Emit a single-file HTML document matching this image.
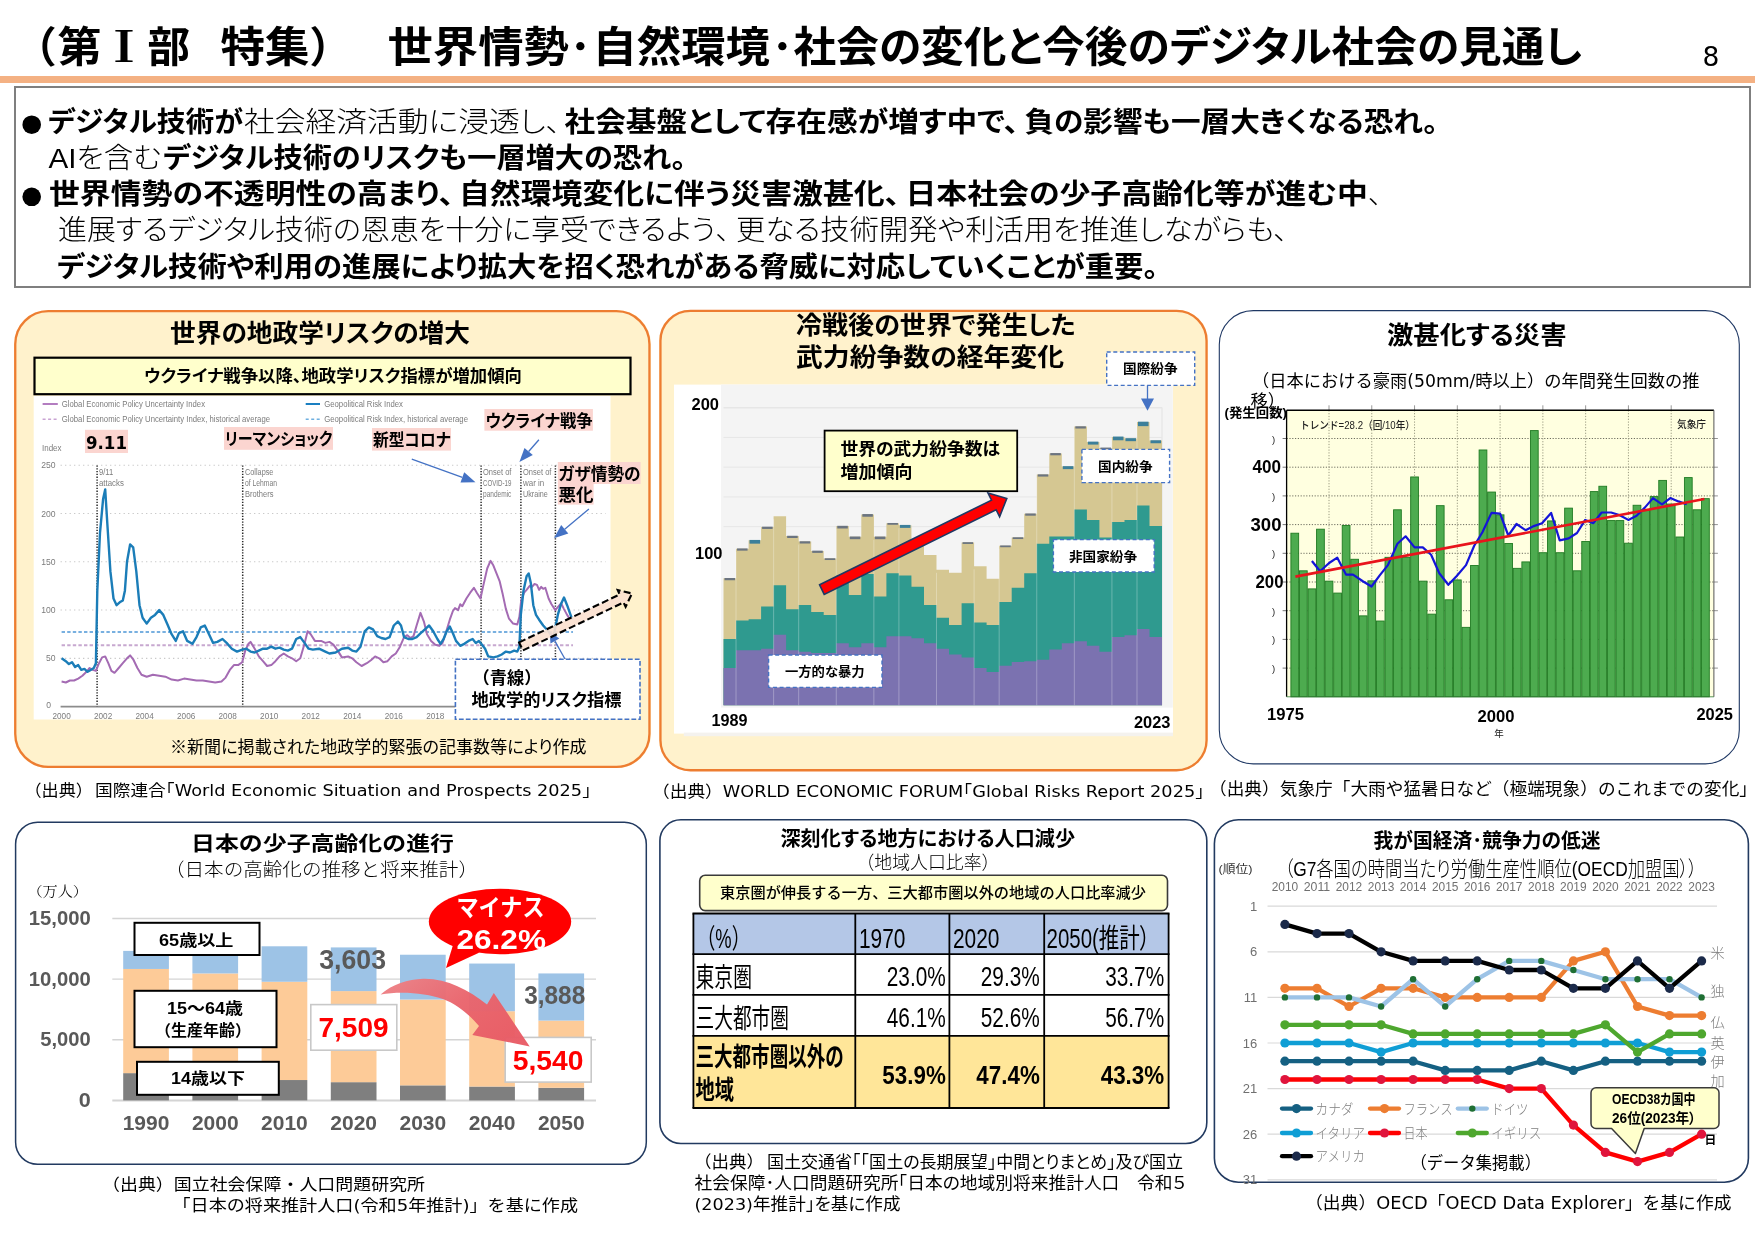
<!DOCTYPE html>
<html lang="ja"><head><meta charset="utf-8"><title>第Ⅰ部 特集 世界情勢・自然環境・社会の変化と今後のデジタル社会の見通し</title>
<style>
html,body{margin:0;padding:0;background:#fff}
body{width:1755px;height:1241px;position:relative;overflow:hidden;font-family:'Liberation Sans','Noto Sans CJK JP',sans-serif}
.rule{position:absolute;left:0;top:76px;width:1755px;height:7px;background:#f4b183}
.summary{position:absolute;left:14px;top:86px;width:1733px;height:198px;border:2px solid #7f7f7f;background:#fff}
.panel{position:absolute;box-sizing:border-box}
.po{background:#fff2cc}
.pn{background:#fff}
#pn1{left:14.1px;top:310px;width:636.5px;height:458px;border-radius:34px}
#pn2{left:659.3px;top:309.7px;width:548.4px;height:461.7px;border-radius:31px}
#pn3{left:1218.8px;top:310.1px;width:521px;height:454.3px;border-radius:34px}
#pn4{left:14.8px;top:821.4px;width:632.3px;height:343.7px;border-radius:23px}
#pn5{left:659px;top:818.9px;width:548.7px;height:325.5px;border-radius:22px}
#pn6{left:1213.5px;top:818.8px;width:535.8px;height:364.3px;border-radius:25px}
svg.ov{position:absolute;left:0;top:0;will-change:opacity;font-family:'Liberation Sans','Noto Sans CJK JP',sans-serif;font-feature-settings:'palt'}
</style></head>
<body>
<div class="rule"></div>
<div class="summary"></div>
<div class="panel po" id="pn1"></div>
<div class="panel po" id="pn2"></div>
<div class="panel pn" id="pn3"></div>
<div class="panel pn" id="pn4"></div>
<div class="panel pn" id="pn5"></div>
<div class="panel pn" id="pn6"></div>
<svg class="ov" width="1755" height="1241" viewBox="0 0 1755 1241">
<g id="frames" fill="none">
<rect x="15.25" y="311.15" width="634.2" height="455.7" rx="33" stroke="#ed7d31" stroke-width="2.3"/>
<rect x="660.45" y="310.85" width="546.1" height="459.4" rx="30" stroke="#ed7d31" stroke-width="2.3"/>
<rect x="1219.3" y="310.6" width="520" height="453.3" rx="34" stroke="#1f3864" stroke-width="1.1"/>
<rect x="15.6" y="822.2" width="630.7" height="342.1" rx="22" stroke="#223a60" stroke-width="1.5"/>
<rect x="659.9" y="819.8" width="546.9" height="323.7" rx="21" stroke="#223a60" stroke-width="1.6"/>
<rect x="1214.4" y="819.7" width="534" height="362.5" rx="24" stroke="#223a60" stroke-width="1.6"/>
</g>
<g id="header">
<text x="55" y="62" font-size="42.5" font-weight="700" text-anchor="end">（</text>
<text x="57.5" y="62" font-size="42.5" font-weight="700" textLength="44" lengthAdjust="spacingAndGlyphs">第</text>
<text x="124" y="62" font-size="42.5" font-weight="900" text-anchor="middle" style="font-family:'Noto Serif CJK SC','Liberation Serif',serif;">Ⅰ</text>
<text x="147.5" y="62" font-size="42.5" font-weight="700" textLength="42.5" lengthAdjust="spacingAndGlyphs">部</text>
<text x="220.5" y="62" font-size="42.5" font-weight="700" textLength="89" lengthAdjust="spacingAndGlyphs">特集</text>
<text x="311" y="62" font-size="42.5" font-weight="700">）</text>
<text x="387.5" y="62" font-size="42.5" font-weight="700" textLength="181.5" lengthAdjust="spacingAndGlyphs">世界情勢</text>
<text x="580.5" y="62" font-size="42.5" font-weight="700" text-anchor="middle">･</text>
<text x="592.5" y="62" font-size="42.5" font-weight="700" textLength="177.5" lengthAdjust="spacingAndGlyphs">自然環境</text>
<text x="782.5" y="62" font-size="42.5" font-weight="700" text-anchor="middle">･</text>
<text x="793.5" y="62" font-size="42.5" font-weight="700" textLength="788.5" lengthAdjust="spacingAndGlyphs">社会の変化と今後のデジタル社会の見通し</text>
<text x="1711" y="66.2" font-size="26.5" text-anchor="middle" style="font-family:'DejaVu Sans','Noto Sans CJK JP',sans-serif;">8</text>
</g>
<g id="summary">
<circle cx="31.7" cy="124.7" r="9.3"/>
<circle cx="31.7" cy="196.8" r="9.3"/>
<text x="48" y="132.3" font-size="28.2" font-weight="700" textLength="195" lengthAdjust="spacingAndGlyphs">デジタル技術が</text>
<text x="244" y="132.3" font-size="28.2" font-weight="300" textLength="317" lengthAdjust="spacingAndGlyphs">社会経済活動に浸透し、</text>
<text x="564.5" y="132.3" font-size="28.2" font-weight="700" textLength="454.5" lengthAdjust="spacingAndGlyphs">社会基盤として存在感が増す中で、</text>
<text x="1024.5" y="132.3" font-size="28.2" font-weight="700" textLength="413.5" lengthAdjust="spacingAndGlyphs">負の影響も一層大きくなる恐れ。</text>
<text x="48.5" y="168.35" font-size="28.2" font-weight="300" textLength="113" lengthAdjust="spacingAndGlyphs">AIを含む</text>
<text x="163" y="168.35" font-size="28.2" font-weight="700" textLength="523" lengthAdjust="spacingAndGlyphs">デジタル技術のリスクも一層増大の恐れ。</text>
<text x="49" y="204.4" font-size="28.2" font-weight="700" textLength="405" lengthAdjust="spacingAndGlyphs">世界情勢の不透明性の高まり、</text>
<text x="459" y="204.4" font-size="28.2" font-weight="700" textLength="441" lengthAdjust="spacingAndGlyphs">自然環境変化に伴う災害激甚化、</text>
<text x="905.5" y="204.4" font-size="28.2" font-weight="700" textLength="462.5" lengthAdjust="spacingAndGlyphs">日本社会の少子高齢化等が進む中</text>
<text x="1368" y="204.4" font-size="28.2" font-weight="300">、</text>
<text x="58" y="240.45" font-size="28.2" font-weight="300" textLength="672" lengthAdjust="spacingAndGlyphs">進展するデジタル技術の恩恵を十分に享受できるよう、</text>
<text x="736" y="240.45" font-size="28.2" font-weight="300" textLength="552" lengthAdjust="spacingAndGlyphs">更なる技術開発や利活用を推進しながらも、</text>
<text x="57" y="276.5" font-size="28.2" font-weight="700" textLength="1101" lengthAdjust="spacingAndGlyphs">デジタル技術や利用の進展により拡大を招く恐れがある脅威に対応していくことが重要。</text>
</g>
<g id="p1">
<text x="170" y="341.9" font-size="24.6" font-weight="700" textLength="300" lengthAdjust="spacingAndGlyphs">世界の地政学リスクの増大</text>
<rect x="34.5" y="357.7" width="596" height="36.5" fill="#ffffcc" stroke="#000" stroke-width="2.2"/>
<text x="144" y="381.5" font-size="16.5" font-weight="700" textLength="378" lengthAdjust="spacingAndGlyphs">ウクライナ戦争以降、地政学リスク指標が増加傾向</text>
<rect x="33.7" y="396" width="576.8" height="323.5" fill="#fff"/>
<line x1="42.6" y1="404" x2="57.8" y2="404" stroke="#a05cb0" stroke-width="1.6" />
<line x1="42.6" y1="419.2" x2="57.8" y2="419.2" stroke="#c9a3d3" stroke-width="1.4" stroke-dasharray="3 2.5"/>
<line x1="305.7" y1="404" x2="320" y2="404" stroke="#1a7fc1" stroke-width="2" />
<line x1="305.7" y1="419.2" x2="320" y2="419.2" stroke="#6fb0e0" stroke-width="1.6" stroke-dasharray="3 2.5"/>
<text x="61.8" y="407" font-size="8.6" fill="#7c7c7c" textLength="143.2" lengthAdjust="spacingAndGlyphs">Global Economic Policy Uncertainty Index</text>
<text x="61.8" y="422.2" font-size="8.6" fill="#7c7c7c" textLength="208.2" lengthAdjust="spacingAndGlyphs">Global Economic Policy Uncertainty Index, historical average</text>
<text x="324.2" y="407" font-size="8.6" fill="#7c7c7c" textLength="78.8" lengthAdjust="spacingAndGlyphs">Geopolitical Risk Index</text>
<text x="324.2" y="422.2" font-size="8.6" fill="#7c7c7c" textLength="143.8" lengthAdjust="spacingAndGlyphs">Geopolitical Risk Index, historical average</text>
<text x="42" y="451" font-size="8.6" fill="#7c7c7c" textLength="19.5" lengthAdjust="spacingAndGlyphs">Index</text>
<line x1="60.6" y1="658.325" x2="605.6" y2="658.325" stroke="#c4c4c4" stroke-width="1.1" stroke-dasharray="1.2 3.3"/>
<text x="55.5" y="661.325" font-size="8.6" fill="#7c7c7c" text-anchor="end">50</text>
<line x1="60.6" y1="610.05" x2="605.6" y2="610.05" stroke="#c4c4c4" stroke-width="1.1" stroke-dasharray="1.2 3.3"/>
<text x="55.5" y="613.05" font-size="8.6" fill="#7c7c7c" text-anchor="end">100</text>
<line x1="60.6" y1="561.775" x2="605.6" y2="561.775" stroke="#c4c4c4" stroke-width="1.1" stroke-dasharray="1.2 3.3"/>
<text x="55.5" y="564.775" font-size="8.6" fill="#7c7c7c" text-anchor="end">150</text>
<line x1="60.6" y1="513.5" x2="605.6" y2="513.5" stroke="#c4c4c4" stroke-width="1.1" stroke-dasharray="1.2 3.3"/>
<text x="55.5" y="516.5" font-size="8.6" fill="#7c7c7c" text-anchor="end">200</text>
<line x1="60.6" y1="465.225" x2="605.6" y2="465.225" stroke="#c4c4c4" stroke-width="1.1" stroke-dasharray="1.2 3.3"/>
<text x="55.5" y="468.225" font-size="8.6" fill="#7c7c7c" text-anchor="end">250</text>
<text x="51" y="708.1" font-size="8.6" fill="#7c7c7c" text-anchor="end">0</text>
<line x1="60.6" y1="706.6" x2="605.6" y2="706.6" stroke="#8c8c8c" stroke-width="1.9" />
<text x="61.6" y="718.6" font-size="8.2" fill="#7c7c7c" text-anchor="middle">2000</text>
<text x="103.12" y="718.6" font-size="8.2" fill="#7c7c7c" text-anchor="middle">2002</text>
<text x="144.64" y="718.6" font-size="8.2" fill="#7c7c7c" text-anchor="middle">2004</text>
<text x="186.16" y="718.6" font-size="8.2" fill="#7c7c7c" text-anchor="middle">2006</text>
<text x="227.68" y="718.6" font-size="8.2" fill="#7c7c7c" text-anchor="middle">2008</text>
<text x="269.2" y="718.6" font-size="8.2" fill="#7c7c7c" text-anchor="middle">2010</text>
<text x="310.72" y="718.6" font-size="8.2" fill="#7c7c7c" text-anchor="middle">2012</text>
<text x="352.24" y="718.6" font-size="8.2" fill="#7c7c7c" text-anchor="middle">2014</text>
<text x="393.76" y="718.6" font-size="8.2" fill="#7c7c7c" text-anchor="middle">2016</text>
<text x="435.28" y="718.6" font-size="8.2" fill="#7c7c7c" text-anchor="middle">2018</text>
<line x1="97.1" y1="465.4" x2="97.1" y2="706.6" stroke="#2a2a2a" stroke-width="1.5" stroke-dasharray="1.3 1.5"/>
<line x1="242.7" y1="465.4" x2="242.7" y2="706.6" stroke="#2a2a2a" stroke-width="1.5" stroke-dasharray="1.3 1.5"/>
<line x1="481.1" y1="465.4" x2="481.1" y2="706.6" stroke="#2a2a2a" stroke-width="1.5" stroke-dasharray="1.3 1.5"/>
<line x1="520.9" y1="465.4" x2="520.9" y2="706.6" stroke="#2a2a2a" stroke-width="1.5" stroke-dasharray="1.3 1.5"/>
<line x1="555.4" y1="465.4" x2="555.4" y2="706.6" stroke="#2a2a2a" stroke-width="1.5" stroke-dasharray="1.3 1.5"/>
<text x="99" y="474.5" font-size="8.4" fill="#7c7c7c" textLength="14.2" lengthAdjust="spacingAndGlyphs">9/11</text>
<text x="99" y="485.9" font-size="8.4" fill="#7c7c7c" textLength="24.85" lengthAdjust="spacingAndGlyphs">attacks</text>
<text x="245" y="474.5" font-size="8.4" fill="#7c7c7c" textLength="28.4" lengthAdjust="spacingAndGlyphs">Collapse</text>
<text x="245" y="485.9" font-size="8.4" fill="#7c7c7c" textLength="31.95" lengthAdjust="spacingAndGlyphs">of Lehman</text>
<text x="245" y="497.3" font-size="8.4" fill="#7c7c7c" textLength="28.4" lengthAdjust="spacingAndGlyphs">Brothers</text>
<text x="483" y="474.5" font-size="8.4" fill="#7c7c7c" textLength="28.4" lengthAdjust="spacingAndGlyphs">Onset of</text>
<text x="483" y="485.9" font-size="8.4" fill="#7c7c7c" textLength="28.4" lengthAdjust="spacingAndGlyphs">COVID-19</text>
<text x="483" y="497.3" font-size="8.4" fill="#7c7c7c" textLength="28.4" lengthAdjust="spacingAndGlyphs">pandemic</text>
<text x="523" y="474.5" font-size="8.4" fill="#7c7c7c" textLength="28.4" lengthAdjust="spacingAndGlyphs">Onset of</text>
<text x="523" y="485.9" font-size="8.4" fill="#7c7c7c" textLength="21.3" lengthAdjust="spacingAndGlyphs">war in</text>
<text x="523" y="497.3" font-size="8.4" fill="#7c7c7c" textLength="24.85" lengthAdjust="spacingAndGlyphs">Ukraine</text>
<line x1="61.6" y1="632" x2="573" y2="632" stroke="#78b0e0" stroke-width="2" stroke-dasharray="3.4 2.2"/>
<line x1="61.6" y1="645.2" x2="573" y2="645.2" stroke="#c7a8d0" stroke-width="2" stroke-dasharray="3.4 2.2"/>
<polyline points="61.6,681.5 65.8,682.5 69.9,680.5 74.1,680.5 78.2,678.6 82.4,675.7 86.5,671.8 89.6,668.0 92.7,669.9 95.9,670.9 99.0,663.2 102.1,657.4 105.2,656.4 108.3,663.2 111.4,670.9 114.5,672.8 118.7,668.0 122.8,663.2 127.0,658.3 130.1,655.4 133.2,659.3 137.4,668.0 141.5,674.7 146.7,676.7 152.9,674.7 159.2,675.7 165.4,676.7 171.6,679.6 177.9,680.5 184.1,678.6 190.3,679.6 196.5,680.5 202.8,680.5 209.0,681.5 215.2,682.5 221.5,681.5 225.6,677.6 229.8,669.9 233.9,665.1 238.1,665.1 242.2,662.2 245.3,650.6 248.4,643.8 250.5,641.9 254.7,648.7 258.8,656.4 263.0,661.2 267.1,666.0 271.3,665.1 275.4,661.2 279.6,656.4 283.7,653.5 287.9,656.4 292.0,658.3 296.2,661.2 300.3,658.3 304.5,643.8 307.6,631.3 310.7,634.2 314.9,640.9 321.1,640.9 325.3,642.9 329.4,641.9 333.6,644.8 337.7,650.6 341.9,657.4 348.1,656.4 352.2,658.3 356.4,662.2 361.6,666.0 366.8,663.2 370.9,660.3 375.1,656.4 379.2,658.3 383.4,662.2 387.5,661.2 391.7,656.4 395.8,653.5 400.0,646.7 404.1,637.1 407.3,635.2 410.4,638.0 413.5,636.1 416.6,625.5 420.5,612.9 423.9,621.6 427.0,634.2 431.1,640.9 435.3,644.8 439.4,645.8 442.5,642.9 445.7,633.2 449.8,619.7 452.9,611.0 455.0,608.1 458.1,610.1 460.2,604.3 462.3,606.2 466.4,598.5 470.2,592.7 473.9,587.8 476.8,592.7 480.5,598.5 483.0,586.9 487.2,568.5 490.5,560.8 493.4,565.6 496.5,573.4 499.6,581.1 502.8,594.6 505.9,609.1 509.0,618.7 513.1,623.6 517.3,624.5 519.4,616.8 521.2,600.4 524.1,592.7 526.6,589.8 529.7,585.9 532.0,586.9 534.5,584.0 537.0,584.9 539.1,589.8 541.2,586.9 543.2,588.8 545.3,587.8 548.6,598.5 551.5,604.3 555.3,610.1 557.8,607.2 561.1,603.3 564.0,609.1 567.1,614.9 570.2,619.7" fill="none" stroke="#a46bb3" stroke-width="2" stroke-linejoin="round"/>
<polyline points="61.6,658.3 65.8,661.2 68.9,664.1 72.0,662.2 75.1,667.0 78.2,665.1 81.3,669.9 84.4,668.9 87.6,671.8 90.7,669.9 93.8,668.0 95.9,663.2 97.3,590.7 100.0,532.8 103.1,499.0 105.2,489.4 107.3,523.2 110.4,571.4 113.5,598.5 116.6,605.2 119.7,602.3 122.8,600.4 124.9,590.7 127.0,561.8 130.1,544.4 133.2,547.3 136.3,571.4 139.5,605.2 142.6,617.8 146.7,623.6 150.9,617.8 155.0,614.9 159.2,610.1 163.3,614.9 167.5,624.5 171.6,634.2 175.8,640.9 178.9,633.2 183.0,631.3 187.2,640.9 192.4,643.8 196.5,637.1 200.7,627.4 204.8,625.5 209.0,634.2 213.1,642.9 217.3,641.9 222.5,639.0 226.6,642.9 231.8,648.7 237.0,651.6 242.2,649.6 246.4,648.7 250.5,651.6 254.7,652.5 258.8,650.6 263.0,648.7 267.1,648.7 271.3,646.7 275.4,648.7 279.6,647.7 283.7,649.6 287.9,650.6 292.0,648.7 296.2,639.0 300.3,637.1 304.5,642.9 308.6,648.7 312.8,649.6 319.0,648.7 325.3,651.6 329.4,653.5 335.6,652.5 341.9,648.7 348.1,647.7 352.2,650.6 356.4,651.6 360.5,646.7 364.7,631.3 368.8,627.4 373.0,629.4 377.2,636.1 381.3,638.0 385.5,639.0 389.6,637.1 393.8,625.5 397.9,621.6 401.0,625.5 404.1,637.1 408.3,639.0 412.4,639.0 416.6,637.1 420.7,633.2 424.9,629.4 429.1,625.5 433.2,631.3 437.4,639.0 440.5,643.8 443.6,639.0 446.7,631.3 449.8,626.5 452.9,633.2 456.0,640.9 460.2,645.8 464.3,643.8 468.5,640.9 472.6,639.0 475.8,642.9 478.9,640.9 482.0,644.8 485.1,648.7 488.2,656.4 493.4,657.4 497.6,656.4 501.7,654.5 505.9,651.6 510.0,652.5 514.2,650.6 517.3,651.6 519.4,646.7 520.8,614.9 523.5,590.7 526.6,576.3 528.7,573.4 530.8,583.0 533.3,605.2 536.0,614.9 539.1,619.7 543.2,625.5 548.4,631.3 552.6,637.1 554.6,631.3 557.8,614.9 560.9,604.3 564.0,597.5 567.1,605.2 570.2,613.9 572.3,619.7" fill="none" stroke="#1b7db8" stroke-width="2.4" stroke-linejoin="round"/>
<rect x="85" y="429.8" width="43" height="23.2" fill="#fbd5d0"/>
<text x="86" y="448.6" font-size="18.5" font-weight="700" textLength="41" lengthAdjust="spacingAndGlyphs" style="font-family:'DejaVu Sans','Noto Sans CJK JP',sans-serif;">9.11</text>
<rect x="224" y="427" width="109" height="22.8" fill="#fbd5d0"/>
<text x="225" y="445.2" font-size="16.8" font-weight="700" textLength="107.5" lengthAdjust="spacingAndGlyphs">リーマンショック</text>
<rect x="372" y="428" width="79" height="22.6" fill="#fbd5d0"/>
<text x="373" y="446" font-size="16.8" font-weight="700" textLength="77.5" lengthAdjust="spacingAndGlyphs">新型コロナ</text>
<rect x="484.4" y="409" width="108.5" height="21.7" fill="#fbd5d0"/>
<text x="485.5" y="426.5" font-size="16.8" font-weight="700" textLength="107" lengthAdjust="spacingAndGlyphs">ウクライナ戦争</text>
<rect x="557.8" y="462" width="82.8" height="22" fill="#fbd5d0"/>
<rect x="557.8" y="483.5" width="35.8" height="21.1" fill="#fbd5d0"/>
<text x="558.5" y="480.3" font-size="16.8" font-weight="700" textLength="82" lengthAdjust="spacingAndGlyphs">ガザ情勢の</text>
<text x="558.5" y="501.3" font-size="16.8" font-weight="700" textLength="35" lengthAdjust="spacingAndGlyphs">悪化</text>
<line x1="411.8" y1="459.1" x2="462.339" y2="477.427" stroke="#4472c4" stroke-width="1.3" />
<polygon points="475.5,482.2 460.5,482.6 464.2,472.3" fill="#4472c4" />
<line x1="538.9" y1="439.8" x2="528.639" y2="451.482" stroke="#4472c4" stroke-width="1.3" />
<polygon points="519.4,462.0 524.5,447.9 532.8,455.1" fill="#4472c4" />
<line x1="588.9" y1="508.9" x2="564.707" y2="529.28" stroke="#4472c4" stroke-width="1.3" />
<polygon points="554.0,538.3 561.2,525.1 568.3,533.5" fill="#4472c4" />
<line x1="565" y1="659" x2="554.901" y2="641.083" stroke="#4472c4" stroke-width="1.3" />
<polygon points="549.5,631.5 559.3,638.6 550.5,643.5" fill="#4472c4" />
<polygon points="519.1,642.4 619.7,594.5 617.7,590.1 632.0,593.5 625.6,606.8 623.5,602.4 522.9,650.4" fill="#fbe0cf" stroke="#000" stroke-width="2.1" fill-opacity="0.9" stroke-dasharray="7 3.2" stroke-linejoin="miter"/>
<rect x="455.4" y="659.3" width="184.6" height="60" fill="#fff" stroke="#4472c4" stroke-width="1.6" stroke-dasharray="4.8 2.1"/>
<text x="472.5" y="684" font-size="17" font-weight="700" textLength="69" lengthAdjust="spacingAndGlyphs" style="font-feature-settings:normal;">（青線）</text>
<text x="471.5" y="706.4" font-size="17" font-weight="700" textLength="150" lengthAdjust="spacingAndGlyphs">地政学的リスク指標</text>
<text x="170" y="753" font-size="17.2" textLength="416.5" lengthAdjust="spacingAndGlyphs">※新聞に掲載された地政学的緊張の記事数等により作成</text>
<text x="24.5" y="796.3" font-size="16.2" textLength="68.5" lengthAdjust="spacingAndGlyphs" style="font-family:'DejaVu Sans','Noto Sans CJK JP',sans-serif;font-feature-settings:normal;">（出典）</text>
<text x="95" y="796.3" font-size="16.2" textLength="496" lengthAdjust="spacingAndGlyphs" style="font-family:'DejaVu Sans','Noto Sans CJK JP',sans-serif;font-feature-settings:normal;">国際連合｢World Economic Situation and Prospects 2025｣</text>
</g>
<g id="p2">
<text x="796" y="333.7" font-size="25.5" font-weight="700" textLength="279.5" lengthAdjust="spacingAndGlyphs">冷戦後の世界で発生した</text>
<text x="796" y="365.8" font-size="25.5" font-weight="700" textLength="268" lengthAdjust="spacingAndGlyphs">武力紛争数の経年変化</text>
<rect x="674" y="384.6" width="499" height="349" fill="#fff"/>
<rect x="683.8" y="732.6" width="489.2" height="3.6" fill="#f4f2ee"/>
<rect x="721" y="384.6" width="451.8" height="323" fill="#f4f4f4"/>
<line x1="723.5" y1="407.7" x2="1162" y2="407.7" stroke="#e6e6e6" stroke-width="1.6" />
<line x1="723.5" y1="437.45" x2="1162" y2="437.45" stroke="#e6e6e6" stroke-width="1" />
<line x1="723.5" y1="467.2" x2="1162" y2="467.2" stroke="#e6e6e6" stroke-width="1" />
<line x1="723.5" y1="496.95" x2="1162" y2="496.95" stroke="#e6e6e6" stroke-width="1" />
<line x1="723.5" y1="526.7" x2="1162" y2="526.7" stroke="#e6e6e6" stroke-width="1" />
<line x1="1162" y1="407.6" x2="1162" y2="705.2" stroke="#e6e6e6" stroke-width="1.3" />
<polygon points="723.5,705.2 723.5,578.3 736.0,578.3 736.0,548.7 748.6,548.7 748.6,540.2 761.1,540.2 761.1,527.0 773.6,527.0 773.6,516.3 786.1,516.3 786.1,536.1 798.7,536.1 798.7,541.6 811.2,541.6 811.2,550.9 823.7,550.9 823.7,558.5 836.3,558.5 836.3,526.1 848.8,526.1 848.8,536.8 861.3,536.8 861.3,514.4 873.9,514.4 873.9,536.8 886.4,536.8 886.4,523.3 898.9,523.3 898.9,525.2 911.4,525.2 911.5,543.1 924.0,543.1 924.0,555.1 936.5,555.1 936.5,569.8 949.0,569.8 949.0,572.8 961.6,572.8 961.6,542.5 974.1,542.5 974.1,566.3 986.6,566.3 986.6,578.8 999.2,578.8 999.2,545.7 1011.7,545.7 1011.7,537.6 1024.2,537.6 1024.2,513.8 1036.8,513.8 1036.8,474.6 1049.3,474.6 1049.3,453.4 1061.8,453.4 1061.8,466.5 1074.3,466.5 1074.3,426.6 1086.9,426.6 1086.9,441.9 1099.4,441.9 1099.4,447.9 1111.9,447.9 1111.9,436.9 1124.5,436.9 1124.5,438.5 1137.0,438.5 1137.0,422.0 1149.5,422.0 1149.5,440.6 1162.0,440.6 1162.0,705.2" fill="#d5c792" />
<polygon points="723.5,705.2 723.5,639.0 736.0,639.0 736.0,620.6 748.6,620.6 748.6,619.2 761.1,619.2 761.1,606.4 773.6,606.4 773.6,585.3 786.1,585.3 786.1,609.3 798.7,609.3 798.7,605.1 811.2,605.1 811.2,612.1 823.7,612.1 823.7,614.9 836.3,614.9 836.3,575.5 848.8,575.5 848.8,595.1 861.3,595.1 861.3,574.0 873.9,574.0 873.9,596.6 886.4,596.6 886.4,573.3 898.9,573.3 898.9,575.5 911.4,575.5 911.5,586.8 924.0,586.8 924.0,605.1 936.5,605.1 936.5,617.7 949.0,617.7 949.0,624.9 961.6,624.9 961.6,603.3 974.1,603.3 974.1,622.6 986.6,622.6 986.6,624.9 999.2,624.9 999.2,602.1 1011.7,602.1 1011.7,587.7 1024.2,587.7 1024.2,573.3 1036.8,573.3 1036.8,543.7 1049.3,543.7 1049.3,536.4 1061.8,536.4 1061.8,536.4 1074.3,536.4 1074.3,509.6 1086.9,509.6 1086.9,519.9 1099.4,519.9 1099.4,537.6 1111.9,537.6 1111.9,521.9 1124.5,521.9 1124.5,520.0 1137.0,520.0 1137.0,505.6 1149.5,505.6 1149.5,526.1 1162.0,526.1 1162.0,705.2" fill="#2f9a8f" />
<polygon points="723.5,705.2 723.5,668.0 736.0,668.0 736.0,650.2 748.6,650.2 748.6,650.2 761.1,650.2 761.1,648.7 773.6,648.7 773.6,634.7 786.1,634.7 786.1,650.2 798.7,650.2 798.7,651.7 811.2,651.7 811.2,653.1 823.7,653.1 823.7,653.1 836.3,653.1 836.3,643.2 848.8,643.2 848.8,647.2 861.3,647.2 861.3,643.2 873.9,643.2 873.9,647.2 886.4,647.2 886.4,636.2 898.9,636.2 898.9,636.2 911.4,636.2 911.5,638.3 924.0,638.3 924.0,643.2 936.5,643.2 936.5,648.7 949.0,648.7 949.0,654.6 961.6,654.6 961.6,657.6 974.1,657.6 974.1,668.0 986.6,668.0 986.6,672.0 999.2,672.0 999.2,665.8 1011.7,665.8 1011.7,662.1 1024.2,662.1 1024.2,661.3 1036.8,661.3 1036.8,659.7 1049.3,659.7 1049.3,649.4 1061.8,649.4 1061.8,643.2 1074.3,643.2 1074.3,641.2 1086.9,641.2 1086.9,645.7 1099.4,645.7 1099.4,651.7 1111.9,651.7 1111.9,637.1 1124.5,637.1 1124.5,635.3 1137.0,635.3 1137.0,628.9 1149.5,628.9 1149.5,637.1 1162.0,637.1 1162.0,705.2" fill="#7b72b0" />
<rect x="724.5" y="578.016" width="10.53" height="2.23125" fill="#6b7480"/>
<rect x="737.03" y="548.415" width="10.53" height="2.23125" fill="#6b7480"/>
<rect x="749.56" y="539.936" width="10.53" height="3.71875" fill="#3c7f9a"/>
<rect x="762.09" y="526.698" width="10.53" height="2.23125" fill="#6b7480"/>
<rect x="787.15" y="535.771" width="10.53" height="2.23125" fill="#6b7480"/>
<rect x="799.68" y="541.275" width="10.53" height="2.23125" fill="#6b7480"/>
<rect x="812.21" y="550.646" width="10.53" height="2.23125" fill="#6b7480"/>
<rect x="824.74" y="558.233" width="10.53" height="1.785" fill="#6b7480"/>
<rect x="837.27" y="525.805" width="10.53" height="2.6775" fill="#6b7480"/>
<rect x="849.8" y="536.515" width="10.53" height="2.6775" fill="#6b7480"/>
<rect x="862.33" y="514.054" width="10.53" height="2.6775" fill="#6b7480"/>
<rect x="874.86" y="536.515" width="10.53" height="2.6775" fill="#6b7480"/>
<rect x="887.39" y="522.979" width="10.53" height="1.785" fill="#6b7480"/>
<rect x="899.92" y="524.913" width="10.53" height="2.975" fill="#3c7f9a"/>
<rect x="962.57" y="542.168" width="10.53" height="1.785" fill="#6b7480"/>
<rect x="1000.16" y="545.44" width="10.53" height="1.785" fill="#6b7480"/>
<rect x="1012.69" y="537.259" width="10.53" height="1.785" fill="#6b7480"/>
<rect x="1025.22" y="513.459" width="10.53" height="2.23125" fill="#6b7480"/>
<rect x="1037.75" y="474.338" width="10.53" height="2.23125" fill="#6b7480"/>
<rect x="1050.28" y="453.066" width="10.53" height="2.23125" fill="#6b7480"/>
<rect x="1062.81" y="466.156" width="10.53" height="2.975" fill="#3c7f9a"/>
<rect x="1075.34" y="426.291" width="10.53" height="2.23125" fill="#6b7480"/>
<rect x="1087.87" y="441.613" width="10.53" height="2.975" fill="#3c7f9a"/>
<rect x="1100.4" y="447.562" width="10.53" height="2.23125" fill="#6b7480"/>
<rect x="1112.93" y="436.555" width="10.53" height="3.71875" fill="#3c7f9a"/>
<rect x="1125.46" y="438.191" width="10.53" height="2.975" fill="#3c7f9a"/>
<rect x="1137.99" y="421.68" width="10.53" height="4.4625" fill="#3c7f9a"/>
<rect x="1150.52" y="440.274" width="10.53" height="2.975" fill="#3c7f9a"/>
<line x1="736.03" y1="551.715" x2="736.03" y2="705.2" stroke="#fff" stroke-width="0.8" opacity="0.35"/>
<line x1="773.62" y1="519.288" x2="773.62" y2="705.2" stroke="#fff" stroke-width="0.8" opacity="0.35"/>
<line x1="798.68" y1="544.575" x2="798.68" y2="705.2" stroke="#fff" stroke-width="0.8" opacity="0.35"/>
<line x1="836.27" y1="529.105" x2="836.27" y2="705.2" stroke="#fff" stroke-width="0.8" opacity="0.35"/>
<line x1="873.86" y1="539.815" x2="873.86" y2="705.2" stroke="#fff" stroke-width="0.8" opacity="0.35"/>
<line x1="898.92" y1="528.213" x2="898.92" y2="705.2" stroke="#fff" stroke-width="0.8" opacity="0.35"/>
<line x1="936.51" y1="572.838" x2="936.51" y2="705.2" stroke="#fff" stroke-width="0.8" opacity="0.35"/>
<line x1="974.1" y1="569.268" x2="974.1" y2="705.2" stroke="#fff" stroke-width="0.8" opacity="0.35"/>
<line x1="999.16" y1="548.74" x2="999.16" y2="705.2" stroke="#fff" stroke-width="0.8" opacity="0.35"/>
<line x1="1036.75" y1="477.638" x2="1036.75" y2="705.2" stroke="#fff" stroke-width="0.8" opacity="0.35"/>
<line x1="1074.34" y1="429.591" x2="1074.34" y2="705.2" stroke="#fff" stroke-width="0.8" opacity="0.35"/>
<line x1="1111.93" y1="439.855" x2="1111.93" y2="705.2" stroke="#fff" stroke-width="0.8" opacity="0.35"/>
<line x1="1136.99" y1="424.98" x2="1136.99" y2="705.2" stroke="#fff" stroke-width="0.8" opacity="0.35"/>
<text x="691.5" y="410.2" font-size="17" font-weight="700" textLength="27.5" lengthAdjust="spacingAndGlyphs">200</text>
<text x="695" y="558.9" font-size="17" font-weight="700" textLength="27.5" lengthAdjust="spacingAndGlyphs">100</text>
<text x="711.5" y="725.6" font-size="17" font-weight="700" textLength="36" lengthAdjust="spacingAndGlyphs">1989</text>
<text x="1134" y="728" font-size="17" font-weight="700" textLength="36.5" lengthAdjust="spacingAndGlyphs">2023</text>
<rect x="824.6" y="430.6" width="192.6" height="60.6" fill="#ffffcc" stroke="#000" stroke-width="1.8"/>
<text x="840.5" y="455.3" font-size="17.3" font-weight="700" textLength="159.5" lengthAdjust="spacingAndGlyphs">世界の武力紛争数は</text>
<text x="840.5" y="477.5" font-size="17.3" font-weight="700" textLength="72" lengthAdjust="spacingAndGlyphs">増加傾向</text>
<polygon points="819.6,584.8 991.5,500.2 988.0,493.1 1006.8,498.5 999.6,516.7 996.1,509.7 824.2,594.4" fill="#ff0000" stroke="#1f3864" stroke-width="1.6" stroke-linejoin="miter"/>
<rect x="1106.7" y="352" width="88" height="33.4" fill="#fff" stroke="#4472c4" stroke-width="1.4" stroke-dasharray="4 2.6"/>
<text x="1123" y="372.6" font-size="12.8" font-weight="700" textLength="54.5" lengthAdjust="spacingAndGlyphs">国際紛争</text>
<line x1="1147.5" y1="385.4" x2="1147.5" y2="399" stroke="#4472c4" stroke-width="1.3" />
<polygon points="1141.0,398.4 1154.0,398.4 1147.5,410.8" fill="#4472c4" />
<rect x="1081.9" y="449.4" width="87.7" height="33.2" fill="#fff" stroke="#4472c4" stroke-width="1.4" stroke-dasharray="4 2.6"/>
<text x="1098" y="470.8" font-size="12.8" font-weight="700" textLength="54.5" lengthAdjust="spacingAndGlyphs">国内紛争</text>
<rect x="1053.4" y="539.6" width="100.8" height="32.4" fill="#fff" stroke="#4472c4" stroke-width="1.4" stroke-dasharray="4 2.6"/>
<text x="1069" y="560.6" font-size="12.8" font-weight="700" textLength="68" lengthAdjust="spacingAndGlyphs">非国家紛争</text>
<rect x="768.6" y="655" width="113.4" height="32.4" fill="#fff" stroke="#4472c4" stroke-width="1.4" stroke-dasharray="4 2.6"/>
<text x="785" y="676.2" font-size="12.8" font-weight="700" textLength="79.5" lengthAdjust="spacingAndGlyphs">一方的な暴力</text>
<text x="652" y="797" font-size="16.2" textLength="552" lengthAdjust="spacingAndGlyphs" style="font-family:'DejaVu Sans','Noto Sans CJK JP',sans-serif;font-feature-settings:normal;">（出典）WORLD ECONOMIC FORUM｢Global Risks Report 2025｣</text>
</g>
<g id="p3">
<text x="1387" y="343.8" font-size="24.6" font-weight="700" textLength="179.5" lengthAdjust="spacingAndGlyphs">激甚化する災害</text>
<text x="1252" y="387.3" font-size="17.2" textLength="447.5" lengthAdjust="spacingAndGlyphs" style="font-family:'DejaVu Sans','Noto Sans CJK JP',sans-serif;font-feature-settings:normal;">（日本における豪雨(50mm/時以上）の年間発生回数の推</text>
<text x="1250.5" y="406.7" font-size="17.2" textLength="34.5" lengthAdjust="spacingAndGlyphs" style="font-family:'DejaVu Sans','Noto Sans CJK JP',sans-serif;font-feature-settings:normal;">移）</text>
<rect x="1286.6" y="410.3" width="427.3" height="286.5" fill="#ffffe0"/>
<line x1="1286.6" y1="668.1" x2="1713.9" y2="668.1" stroke="#6e6e60" stroke-width="1" stroke-dasharray="1.2 1.6"/>
<line x1="1282.6" y1="668.1" x2="1286.6" y2="668.1" stroke="#666" stroke-width="0.9" />
<line x1="1713.9" y1="668.1" x2="1717.9" y2="668.1" stroke="#888" stroke-width="0.9" />
<line x1="1286.6" y1="639.4" x2="1713.9" y2="639.4" stroke="#6e6e60" stroke-width="1" stroke-dasharray="1.2 1.6"/>
<line x1="1282.6" y1="639.4" x2="1286.6" y2="639.4" stroke="#666" stroke-width="0.9" />
<line x1="1713.9" y1="639.4" x2="1717.9" y2="639.4" stroke="#888" stroke-width="0.9" />
<line x1="1286.6" y1="610.7" x2="1713.9" y2="610.7" stroke="#6e6e60" stroke-width="1" stroke-dasharray="1.2 1.6"/>
<line x1="1282.6" y1="610.7" x2="1286.6" y2="610.7" stroke="#666" stroke-width="0.9" />
<line x1="1713.9" y1="610.7" x2="1717.9" y2="610.7" stroke="#888" stroke-width="0.9" />
<line x1="1286.6" y1="582" x2="1713.9" y2="582" stroke="#6e6e60" stroke-width="1" stroke-dasharray="1.2 1.6"/>
<line x1="1282.6" y1="582" x2="1286.6" y2="582" stroke="#666" stroke-width="0.9" />
<line x1="1713.9" y1="582" x2="1717.9" y2="582" stroke="#888" stroke-width="0.9" />
<line x1="1286.6" y1="553.3" x2="1713.9" y2="553.3" stroke="#6e6e60" stroke-width="1" stroke-dasharray="1.2 1.6"/>
<line x1="1282.6" y1="553.3" x2="1286.6" y2="553.3" stroke="#666" stroke-width="0.9" />
<line x1="1713.9" y1="553.3" x2="1717.9" y2="553.3" stroke="#888" stroke-width="0.9" />
<line x1="1286.6" y1="524.6" x2="1713.9" y2="524.6" stroke="#6e6e60" stroke-width="1" stroke-dasharray="1.2 1.6"/>
<line x1="1282.6" y1="524.6" x2="1286.6" y2="524.6" stroke="#666" stroke-width="0.9" />
<line x1="1713.9" y1="524.6" x2="1717.9" y2="524.6" stroke="#888" stroke-width="0.9" />
<line x1="1286.6" y1="495.9" x2="1713.9" y2="495.9" stroke="#6e6e60" stroke-width="1" stroke-dasharray="1.2 1.6"/>
<line x1="1282.6" y1="495.9" x2="1286.6" y2="495.9" stroke="#666" stroke-width="0.9" />
<line x1="1713.9" y1="495.9" x2="1717.9" y2="495.9" stroke="#888" stroke-width="0.9" />
<line x1="1286.6" y1="467.2" x2="1713.9" y2="467.2" stroke="#6e6e60" stroke-width="1" stroke-dasharray="1.2 1.6"/>
<line x1="1282.6" y1="467.2" x2="1286.6" y2="467.2" stroke="#666" stroke-width="0.9" />
<line x1="1713.9" y1="467.2" x2="1717.9" y2="467.2" stroke="#888" stroke-width="0.9" />
<line x1="1286.6" y1="438.5" x2="1713.9" y2="438.5" stroke="#6e6e60" stroke-width="1" stroke-dasharray="1.2 1.6"/>
<line x1="1282.6" y1="438.5" x2="1286.6" y2="438.5" stroke="#666" stroke-width="0.9" />
<line x1="1713.9" y1="438.5" x2="1717.9" y2="438.5" stroke="#888" stroke-width="0.9" />
<line x1="1329" y1="410.3" x2="1329" y2="696.8" stroke="#9a9a80" stroke-width="1" stroke-dasharray="1.2 1.6"/>
<line x1="1329" y1="405.3" x2="1329" y2="410.3" stroke="#999" stroke-width="1" />
<line x1="1371.77" y1="410.3" x2="1371.77" y2="696.8" stroke="#9a9a80" stroke-width="1" stroke-dasharray="1.2 1.6"/>
<line x1="1371.77" y1="405.3" x2="1371.77" y2="410.3" stroke="#999" stroke-width="1" />
<line x1="1414.55" y1="410.3" x2="1414.55" y2="696.8" stroke="#9a9a80" stroke-width="1" stroke-dasharray="1.2 1.6"/>
<line x1="1414.55" y1="405.3" x2="1414.55" y2="410.3" stroke="#999" stroke-width="1" />
<line x1="1457.32" y1="410.3" x2="1457.32" y2="696.8" stroke="#9a9a80" stroke-width="1" stroke-dasharray="1.2 1.6"/>
<line x1="1457.32" y1="405.3" x2="1457.32" y2="410.3" stroke="#999" stroke-width="1" />
<line x1="1500.1" y1="410.3" x2="1500.1" y2="696.8" stroke="#9a9a80" stroke-width="1" stroke-dasharray="1.2 1.6"/>
<line x1="1500.1" y1="405.3" x2="1500.1" y2="410.3" stroke="#999" stroke-width="1" />
<line x1="1542.87" y1="410.3" x2="1542.87" y2="696.8" stroke="#9a9a80" stroke-width="1" stroke-dasharray="1.2 1.6"/>
<line x1="1542.87" y1="405.3" x2="1542.87" y2="410.3" stroke="#999" stroke-width="1" />
<line x1="1585.65" y1="410.3" x2="1585.65" y2="696.8" stroke="#9a9a80" stroke-width="1" stroke-dasharray="1.2 1.6"/>
<line x1="1585.65" y1="405.3" x2="1585.65" y2="410.3" stroke="#999" stroke-width="1" />
<line x1="1628.42" y1="410.3" x2="1628.42" y2="696.8" stroke="#9a9a80" stroke-width="1" stroke-dasharray="1.2 1.6"/>
<line x1="1628.42" y1="405.3" x2="1628.42" y2="410.3" stroke="#999" stroke-width="1" />
<line x1="1671.2" y1="410.3" x2="1671.2" y2="696.8" stroke="#9a9a80" stroke-width="1" stroke-dasharray="1.2 1.6"/>
<line x1="1671.2" y1="405.3" x2="1671.2" y2="410.3" stroke="#999" stroke-width="1" />
<rect x="1290.9" y="533.21" width="7.755" height="163.59" fill="#4dab4f" stroke="#1f7a22" stroke-width="0.9"/>
<rect x="1299.46" y="570.807" width="7.755" height="125.993" fill="#4dab4f" stroke="#1f7a22" stroke-width="0.9"/>
<rect x="1308.01" y="588.888" width="7.755" height="107.912" fill="#4dab4f" stroke="#1f7a22" stroke-width="0.9"/>
<rect x="1316.57" y="529.192" width="7.755" height="167.608" fill="#4dab4f" stroke="#1f7a22" stroke-width="0.9"/>
<rect x="1325.12" y="581.139" width="7.755" height="115.661" fill="#4dab4f" stroke="#1f7a22" stroke-width="0.9"/>
<rect x="1333.68" y="593.078" width="7.755" height="103.722" fill="#4dab4f" stroke="#1f7a22" stroke-width="0.9"/>
<rect x="1342.23" y="525.461" width="7.755" height="171.339" fill="#4dab4f" stroke="#1f7a22" stroke-width="0.9"/>
<rect x="1350.79" y="559.27" width="7.755" height="137.53" fill="#4dab4f" stroke="#1f7a22" stroke-width="0.9"/>
<rect x="1359.34" y="615.866" width="7.755" height="80.934" fill="#4dab4f" stroke="#1f7a22" stroke-width="0.9"/>
<rect x="1367.89" y="580.852" width="7.755" height="115.948" fill="#4dab4f" stroke="#1f7a22" stroke-width="0.9"/>
<rect x="1376.45" y="621.032" width="7.755" height="75.768" fill="#4dab4f" stroke="#1f7a22" stroke-width="0.9"/>
<rect x="1385.01" y="557.318" width="7.755" height="139.482" fill="#4dab4f" stroke="#1f7a22" stroke-width="0.9"/>
<rect x="1393.56" y="509.791" width="7.755" height="187.009" fill="#4dab4f" stroke="#1f7a22" stroke-width="0.9"/>
<rect x="1402.12" y="557.318" width="7.755" height="139.482" fill="#4dab4f" stroke="#1f7a22" stroke-width="0.9"/>
<rect x="1410.67" y="476.958" width="7.755" height="219.842" fill="#4dab4f" stroke="#1f7a22" stroke-width="0.9"/>
<rect x="1419.23" y="581.139" width="7.755" height="115.661" fill="#4dab4f" stroke="#1f7a22" stroke-width="0.9"/>
<rect x="1427.78" y="614.144" width="7.755" height="82.656" fill="#4dab4f" stroke="#1f7a22" stroke-width="0.9"/>
<rect x="1436.34" y="505.658" width="7.755" height="191.142" fill="#4dab4f" stroke="#1f7a22" stroke-width="0.9"/>
<rect x="1444.89" y="599.794" width="7.755" height="97.006" fill="#4dab4f" stroke="#1f7a22" stroke-width="0.9"/>
<rect x="1453.45" y="579.934" width="7.755" height="116.866" fill="#4dab4f" stroke="#1f7a22" stroke-width="0.9"/>
<rect x="1462" y="627.346" width="7.755" height="69.454" fill="#4dab4f" stroke="#1f7a22" stroke-width="0.9"/>
<rect x="1470.56" y="565.469" width="7.755" height="131.331" fill="#4dab4f" stroke="#1f7a22" stroke-width="0.9"/>
<rect x="1479.11" y="449.98" width="7.755" height="246.82" fill="#4dab4f" stroke="#1f7a22" stroke-width="0.9"/>
<rect x="1487.66" y="492.054" width="7.755" height="204.746" fill="#4dab4f" stroke="#1f7a22" stroke-width="0.9"/>
<rect x="1496.22" y="514.842" width="7.755" height="181.958" fill="#4dab4f" stroke="#1f7a22" stroke-width="0.9"/>
<rect x="1504.78" y="543.542" width="7.755" height="153.258" fill="#4dab4f" stroke="#1f7a22" stroke-width="0.9"/>
<rect x="1513.33" y="568.339" width="7.755" height="128.461" fill="#4dab4f" stroke="#1f7a22" stroke-width="0.9"/>
<rect x="1521.88" y="561.91" width="7.755" height="134.89" fill="#4dab4f" stroke="#1f7a22" stroke-width="0.9"/>
<rect x="1530.44" y="430.579" width="7.755" height="266.221" fill="#4dab4f" stroke="#1f7a22" stroke-width="0.9"/>
<rect x="1539" y="552.726" width="7.755" height="144.074" fill="#4dab4f" stroke="#1f7a22" stroke-width="0.9"/>
<rect x="1547.55" y="520.926" width="7.755" height="175.874" fill="#4dab4f" stroke="#1f7a22" stroke-width="0.9"/>
<rect x="1556.11" y="552.726" width="7.755" height="144.074" fill="#4dab4f" stroke="#1f7a22" stroke-width="0.9"/>
<rect x="1564.66" y="508.126" width="7.755" height="188.674" fill="#4dab4f" stroke="#1f7a22" stroke-width="0.9"/>
<rect x="1573.22" y="570.807" width="7.755" height="125.993" fill="#4dab4f" stroke="#1f7a22" stroke-width="0.9"/>
<rect x="1581.77" y="541.533" width="7.755" height="155.267" fill="#4dab4f" stroke="#1f7a22" stroke-width="0.9"/>
<rect x="1590.33" y="491.595" width="7.755" height="205.205" fill="#4dab4f" stroke="#1f7a22" stroke-width="0.9"/>
<rect x="1598.88" y="486.257" width="7.755" height="210.543" fill="#4dab4f" stroke="#1f7a22" stroke-width="0.9"/>
<rect x="1607.43" y="520.582" width="7.755" height="176.218" fill="#4dab4f" stroke="#1f7a22" stroke-width="0.9"/>
<rect x="1615.99" y="520.582" width="7.755" height="176.218" fill="#4dab4f" stroke="#1f7a22" stroke-width="0.9"/>
<rect x="1624.55" y="543.198" width="7.755" height="153.602" fill="#4dab4f" stroke="#1f7a22" stroke-width="0.9"/>
<rect x="1633.1" y="505.256" width="7.755" height="191.544" fill="#4dab4f" stroke="#1f7a22" stroke-width="0.9"/>
<rect x="1641.66" y="509.791" width="7.755" height="187.009" fill="#4dab4f" stroke="#1f7a22" stroke-width="0.9"/>
<rect x="1650.21" y="496.589" width="7.755" height="200.211" fill="#4dab4f" stroke="#1f7a22" stroke-width="0.9"/>
<rect x="1658.77" y="480.402" width="7.755" height="216.398" fill="#4dab4f" stroke="#1f7a22" stroke-width="0.9"/>
<rect x="1667.32" y="504.051" width="7.755" height="192.749" fill="#4dab4f" stroke="#1f7a22" stroke-width="0.9"/>
<rect x="1675.88" y="536.998" width="7.755" height="159.802" fill="#4dab4f" stroke="#1f7a22" stroke-width="0.9"/>
<rect x="1684.43" y="477.589" width="7.755" height="219.211" fill="#4dab4f" stroke="#1f7a22" stroke-width="0.9"/>
<rect x="1692.99" y="509.791" width="7.755" height="187.009" fill="#4dab4f" stroke="#1f7a22" stroke-width="0.9"/>
<rect x="1701.54" y="498.655" width="7.755" height="198.145" fill="#4dab4f" stroke="#1f7a22" stroke-width="0.9"/>
<line x1="1286.6" y1="410.3" x2="1713.9" y2="410.3" stroke="#000" stroke-width="1.6" />
<line x1="1286.6" y1="410.3" x2="1286.6" y2="696.8" stroke="#000" stroke-width="1.3" />
<line x1="1713.9" y1="410.3" x2="1713.9" y2="696.8" stroke="#555" stroke-width="1" />
<line x1="1286.6" y1="696.8" x2="1713.9" y2="696.8" stroke="#2f7a33" stroke-width="0.8" />
<polyline points="1311.9,561.0 1320.1,571.3 1329.1,563.0 1337.3,557.7 1346.0,574.6 1353.0,574.6 1363.2,581.5 1371.5,586.5 1379.7,575.4 1387.9,565.1 1397.4,543.7 1405.6,536.3 1414.6,547.4 1422.8,547.4 1431.1,554.8 1439.3,573.3 1448.3,584.8 1456.5,576.2 1466.0,565.1 1474.2,545.8 1482.4,532.2 1491.5,512.9 1500.1,513.7 1508.3,535.5 1516.5,524.0 1525.6,530.2 1533.8,526.1 1542.0,523.2 1551.1,512.9 1559.7,540.4 1568.7,538.4 1577.0,533.0 1585.2,519.9 1593.4,523.2 1601.6,512.5 1611.1,512.5 1619.3,515.0 1628.3,519.9 1636.6,515.8 1644.8,507.6 1653.0,498.1 1662.0,504.3 1670.3,498.1 1678.5,501.4 1686.7,504.3" fill="none" stroke="#1414d8" stroke-width="2.2" stroke-linejoin="round"/>
<line x1="1295.4" y1="576.6" x2="1704.4" y2="499" stroke="#e8141c" stroke-width="2.6" />
<text x="1300" y="428.6" font-size="10.5" font-weight="500" fill="#222" textLength="115" lengthAdjust="spacingAndGlyphs" style="font-feature-settings:normal;">トレンド=28.2（回/10年）</text>
<text x="1677" y="428.2" font-size="10.5" font-weight="500" fill="#222" textLength="29" lengthAdjust="spacingAndGlyphs">気象庁</text>
<text x="1224.5" y="416.8" font-size="12.6" font-weight="700" textLength="62.5" lengthAdjust="spacingAndGlyphs">(発生回数)</text>
<text x="1252.5" y="473.3" font-size="18" font-weight="700" textLength="28.5" lengthAdjust="spacingAndGlyphs">400</text>
<text x="1250.5" y="530.5" font-size="18" font-weight="700" textLength="31" lengthAdjust="spacingAndGlyphs">300</text>
<text x="1255.5" y="587.7" font-size="18" font-weight="700" textLength="28" lengthAdjust="spacingAndGlyphs">200</text>
<text x="1272" y="672.1" font-size="9.5" fill="#222">)</text>
<text x="1272" y="643.4" font-size="9.5" fill="#222">)</text>
<text x="1272" y="614.7" font-size="9.5" fill="#222">)</text>
<text x="1272" y="557.3" font-size="9.5" fill="#222">)</text>
<text x="1272" y="499.9" font-size="9.5" fill="#222">)</text>
<text x="1272" y="442.5" font-size="9.5" fill="#222">)</text>
<text x="1267" y="719.8" font-size="17" font-weight="700" textLength="37" lengthAdjust="spacingAndGlyphs">1975</text>
<text x="1477.5" y="722.2" font-size="17" font-weight="700" textLength="37" lengthAdjust="spacingAndGlyphs">2000</text>
<text x="1696.5" y="719.8" font-size="17" font-weight="700" textLength="36.5" lengthAdjust="spacingAndGlyphs">2025</text>
<text x="1499" y="737.2" font-size="9.5" fill="#222" text-anchor="middle">年</text>
<text x="1209" y="795.2" font-size="17.2" textLength="548" lengthAdjust="spacingAndGlyphs" style="font-family:'DejaVu Sans','Noto Sans CJK JP',sans-serif;font-feature-settings:normal;">（出典）気象庁「大雨や猛暑日など（極端現象）のこれまでの変化」</text>
</g>
<g id="p4">
<text x="191" y="850.8" font-size="20.5" font-weight="700" textLength="263" lengthAdjust="spacingAndGlyphs" style="font-feature-settings:normal;">日本の少子高齢化の進行</text>
<text x="165" y="876" font-size="18.6" font-weight="300" textLength="313" lengthAdjust="spacingAndGlyphs" style="font-feature-settings:normal;">（日本の高齢化の推移と将来推計）</text>
<text x="27.5" y="896.3" font-size="13.5" font-weight="300" textLength="60.5" lengthAdjust="spacingAndGlyphs" style="font-family:'Noto Serif CJK SC','Noto Sans CJK JP',serif;font-feature-settings:normal;">（万人）</text>
<line x1="112.3" y1="1100.4" x2="596" y2="1100.4" stroke="#d4d4d4" stroke-width="2" />
<text x="90.8" y="1107" font-size="19.6" font-weight="700" fill="#595959" text-anchor="end" textLength="12" lengthAdjust="spacingAndGlyphs">0</text>
<line x1="112.3" y1="1039.77" x2="596" y2="1039.77" stroke="#d4d4d4" stroke-width="1.3" />
<text x="90.8" y="1046.37" font-size="19.6" font-weight="700" fill="#595959" text-anchor="end" textLength="50.5" lengthAdjust="spacingAndGlyphs">5,000</text>
<line x1="112.3" y1="979.13" x2="596" y2="979.13" stroke="#d4d4d4" stroke-width="1.3" />
<text x="90.8" y="985.73" font-size="19.6" font-weight="700" fill="#595959" text-anchor="end" textLength="62" lengthAdjust="spacingAndGlyphs">10,000</text>
<line x1="112.3" y1="918.495" x2="596" y2="918.495" stroke="#d4d4d4" stroke-width="1.3" />
<text x="90.8" y="925.095" font-size="19.6" font-weight="700" fill="#595959" text-anchor="end" textLength="62" lengthAdjust="spacingAndGlyphs">15,000</text>
<rect x="123.2" y="1073.13" width="45.7" height="27.2736" fill="#7f7f7f"/>
<rect x="123.2" y="968.955" width="45.7" height="104.171" fill="#fdcb98"/>
<rect x="123.2" y="950.898" width="45.7" height="18.0571" fill="#9dc3e6"/>
<text x="122.7" y="1129.8" font-size="19.6" font-weight="700" fill="#595959" textLength="46.7" lengthAdjust="spacingAndGlyphs">1990</text>
<rect x="192.4" y="1078" width="45.7" height="22.3986" fill="#7f7f7f"/>
<rect x="192.4" y="973.442" width="45.7" height="104.559" fill="#fdcb98"/>
<rect x="192.4" y="946.751" width="45.7" height="26.6915" fill="#9dc3e6"/>
<text x="191.9" y="1129.8" font-size="19.6" font-weight="700" fill="#595959" textLength="46.7" lengthAdjust="spacingAndGlyphs">2000</text>
<rect x="261.6" y="1080.03" width="45.7" height="20.3734" fill="#7f7f7f"/>
<rect x="261.6" y="981.762" width="45.7" height="98.2651" fill="#fdcb98"/>
<rect x="261.6" y="946.29" width="45.7" height="35.4715" fill="#9dc3e6"/>
<text x="261.1" y="1129.8" font-size="19.6" font-weight="700" fill="#595959" textLength="46.7" lengthAdjust="spacingAndGlyphs">2010</text>
<rect x="330.8" y="1082.17" width="45.7" height="18.2269" fill="#7f7f7f"/>
<rect x="330.8" y="991.111" width="45.7" height="91.0616" fill="#fdcb98"/>
<rect x="330.8" y="947.418" width="45.7" height="43.6936" fill="#9dc3e6"/>
<text x="330.3" y="1129.8" font-size="19.6" font-weight="700" fill="#595959" textLength="46.7" lengthAdjust="spacingAndGlyphs">2020</text>
<rect x="400" y="1085.36" width="45.7" height="15.0375" fill="#7f7f7f"/>
<rect x="400" y="999.552" width="45.7" height="85.8107" fill="#fdcb98"/>
<rect x="400" y="954.73" width="45.7" height="44.8214" fill="#9dc3e6"/>
<text x="399.5" y="1129.8" font-size="19.6" font-weight="700" fill="#595959" textLength="46.7" lengthAdjust="spacingAndGlyphs">2030</text>
<rect x="469.2" y="1086.55" width="45.7" height="13.849" fill="#7f7f7f"/>
<rect x="469.2" y="1011.21" width="45.7" height="75.3451" fill="#fdcb98"/>
<rect x="469.2" y="963.559" width="45.7" height="47.647" fill="#9dc3e6"/>
<text x="468.7" y="1129.8" font-size="19.6" font-weight="700" fill="#595959" textLength="46.7" lengthAdjust="spacingAndGlyphs">2040</text>
<rect x="538.4" y="1087.78" width="45.7" height="12.6242" fill="#7f7f7f"/>
<rect x="538.4" y="1020.59" width="45.7" height="67.1836" fill="#fdcb98"/>
<rect x="538.4" y="973.442" width="45.7" height="47.1498" fill="#9dc3e6"/>
<text x="537.9" y="1129.8" font-size="19.6" font-weight="700" fill="#595959" textLength="46.7" lengthAdjust="spacingAndGlyphs">2050</text>
<rect x="134.5" y="922.8" width="125" height="32.2" fill="#fff" stroke="#000" stroke-width="2"/>
<text x="159" y="945.6" font-size="15.6" font-weight="700" textLength="74.5" lengthAdjust="spacingAndGlyphs" style="font-feature-settings:normal;">65歳以上</text>
<rect x="134.5" y="990.8" width="142" height="56.4" fill="#fff" stroke="#000" stroke-width="2"/>
<text x="167" y="1013.6" font-size="15.6" font-weight="700" textLength="76" lengthAdjust="spacingAndGlyphs" style="font-feature-settings:normal;">15～64歳</text>
<text x="155" y="1036.4" font-size="15.6" font-weight="700" textLength="96" lengthAdjust="spacingAndGlyphs" style="font-feature-settings:normal;">（生産年齢）</text>
<rect x="137" y="1061.8" width="141.8" height="33" fill="#fff" stroke="#000" stroke-width="2"/>
<text x="171" y="1084.2" font-size="15.6" font-weight="700" textLength="74" lengthAdjust="spacingAndGlyphs" style="font-feature-settings:normal;">14歳以下</text>
<text x="319.2" y="968.6" font-size="27" font-weight="700" fill="#595959" textLength="66.8" lengthAdjust="spacingAndGlyphs">3,603</text>
<text x="524.2" y="1003.6" font-size="25" font-weight="700" fill="#595959" textLength="61" lengthAdjust="spacingAndGlyphs">3,888</text>
<rect x="310.8" y="1004.6" width="86" height="45.6" fill="#fff" stroke="#c8c8c8" stroke-width="1.6"/>
<text x="318.5" y="1037.4" font-size="28.5" font-weight="700" fill="#ff0000" textLength="70" lengthAdjust="spacingAndGlyphs">7,509</text>
<rect x="505.2" y="1037.4" width="86" height="44.7" fill="#fff" stroke="#c8c8c8" stroke-width="1.6"/>
<text x="512.8" y="1070.2" font-size="28.5" font-weight="700" fill="#ff0000" textLength="70.7" lengthAdjust="spacingAndGlyphs">5,540</text>
<defs><linearGradient id="cg" x1="0" y1="0" x2="1" y2="0.6"><stop offset="0" stop-color="#ee8488"/><stop offset="0.55" stop-color="#e9656d"/><stop offset="1" stop-color="#e85c66"/></linearGradient></defs>
<path d="M380.6,994.5 C392,984 408,979.5 423,978.7 C446,978 468,989.5 487,1004.4 L493.8,993 L529.7,1046.4 L472.3,1035 L479,1025.9 C467,1012 455,1003.5 443.6,999.2 C425,992.6 400,991 380.6,994.5 Z" fill="url(#cg)" opacity="0.97"/>
<ellipse cx="500" cy="921.5" rx="71.2" ry="32.8" fill="#ff0000"/>
<polygon points="453.0,945.0 479.5,952.5 446.0,968.0" fill="#ff0000" />
<text x="456.5" y="916.2" font-size="23.5" font-weight="700" fill="#fff" textLength="88" lengthAdjust="spacingAndGlyphs" style="font-feature-settings:normal;">マイナス</text>
<text x="456.5" y="949.2" font-size="28" font-weight="700" fill="#fff" textLength="89.5" lengthAdjust="spacingAndGlyphs">26.2%</text>
<text x="102" y="1189.5" font-size="16.4" textLength="323" lengthAdjust="spacingAndGlyphs" style="font-family:'DejaVu Sans','Noto Sans CJK JP',sans-serif;font-feature-settings:normal;">（出典）国立社会保障・人口問題研究所</text>
<text x="172.5" y="1211" font-size="16.4" textLength="405.5" lengthAdjust="spacingAndGlyphs" style="font-family:'DejaVu Sans','Noto Sans CJK JP',sans-serif;font-feature-settings:normal;">「日本の将来推計人口(令和5年推計)」を基に作成</text>
</g>
<g id="p5">
<text x="780.5" y="846.4" font-size="20.5" font-weight="700" textLength="294.5" lengthAdjust="spacingAndGlyphs">深刻化する地方における人口減少</text>
<text x="856.5" y="869.3" font-size="18.4" font-weight="300" textLength="143" lengthAdjust="spacingAndGlyphs" style="font-feature-settings:normal;">（地域人口比率）</text>
<rect x="699.7" y="875.2" width="467.8" height="35.4" fill="#ffffcc" stroke="#3a3a3a" stroke-width="1.6" rx="5.5"/>
<text x="720" y="898" font-size="15.2" font-weight="500" textLength="426" lengthAdjust="spacingAndGlyphs" style="font-feature-settings:normal;">東京圏が伸長する一方、三大都市圏以外の地域の人口比率減少</text>
<rect x="693.4" y="913.5" width="475.2" height="40.6" fill="#b4c7e7"/>
<rect x="693.4" y="954.1" width="475.2" height="81.7" fill="#fff"/>
<rect x="693.4" y="1035.8" width="475.2" height="72.2" fill="#ffe699"/>
<line x1="692.5" y1="913.5" x2="1169.5" y2="913.5" stroke="#000" stroke-width="1.8" />
<line x1="692.5" y1="954.1" x2="1169.5" y2="954.1" stroke="#000" stroke-width="1.8" />
<line x1="692.5" y1="994.8" x2="1169.5" y2="994.8" stroke="#000" stroke-width="1.8" />
<line x1="692.5" y1="1035.8" x2="1169.5" y2="1035.8" stroke="#000" stroke-width="1.8" />
<line x1="692.5" y1="1108" x2="1169.5" y2="1108" stroke="#000" stroke-width="1.8" />
<line x1="693.4" y1="913.5" x2="693.4" y2="1108" stroke="#000" stroke-width="1.8" />
<line x1="855.3" y1="913.5" x2="855.3" y2="1108" stroke="#000" stroke-width="1.8" />
<line x1="949.4" y1="913.5" x2="949.4" y2="1108" stroke="#000" stroke-width="1.8" />
<line x1="1044.2" y1="913.5" x2="1044.2" y2="1108" stroke="#000" stroke-width="1.8" />
<line x1="1168.6" y1="913.5" x2="1168.6" y2="1108" stroke="#000" stroke-width="1.8" />
<text x="697" y="948" font-size="27" textLength="53" lengthAdjust="spacingAndGlyphs" style="font-feature-settings:normal;">（%）</text>
<text x="859" y="948" font-size="27" textLength="46.5" lengthAdjust="spacingAndGlyphs">1970</text>
<text x="953" y="948" font-size="27" textLength="46.5" lengthAdjust="spacingAndGlyphs">2020</text>
<text x="1046.5" y="948" font-size="27" textLength="103.5" lengthAdjust="spacingAndGlyphs">2050(推計）</text>
<text x="695.5" y="987" font-size="27" textLength="56.5" lengthAdjust="spacingAndGlyphs">東京圏</text>
<text x="886.8" y="985.6" font-size="27" textLength="59" lengthAdjust="spacingAndGlyphs">23.0%</text>
<text x="980.8" y="985.6" font-size="27" textLength="59" lengthAdjust="spacingAndGlyphs">29.3%</text>
<text x="1105.2" y="985.6" font-size="27" textLength="59" lengthAdjust="spacingAndGlyphs">33.7%</text>
<text x="695.5" y="1028.2" font-size="27" textLength="93.5" lengthAdjust="spacingAndGlyphs">三大都市圏</text>
<text x="886.8" y="1026.8" font-size="27" textLength="59" lengthAdjust="spacingAndGlyphs">46.1%</text>
<text x="980.8" y="1026.8" font-size="27" textLength="59" lengthAdjust="spacingAndGlyphs">52.6%</text>
<text x="1105.2" y="1026.8" font-size="27" textLength="59" lengthAdjust="spacingAndGlyphs">56.7%</text>
<text x="695.5" y="1066.2" font-size="26" font-weight="700" textLength="148" lengthAdjust="spacingAndGlyphs">三大都市圏以外の</text>
<text x="695.5" y="1099.4" font-size="26" font-weight="700" textLength="38.5" lengthAdjust="spacingAndGlyphs">地域</text>
<text x="882.3" y="1083.8" font-size="26.5" font-weight="700" textLength="63.5" lengthAdjust="spacingAndGlyphs">53.9%</text>
<text x="976.3" y="1083.8" font-size="26.5" font-weight="700" textLength="63.5" lengthAdjust="spacingAndGlyphs">47.4%</text>
<text x="1100.7" y="1083.8" font-size="26.5" font-weight="700" textLength="63.5" lengthAdjust="spacingAndGlyphs">43.3%</text>
<text x="694" y="1167.6" font-size="16.6" textLength="70" lengthAdjust="spacingAndGlyphs" style="font-family:'DejaVu Sans','Noto Sans CJK JP',sans-serif;font-feature-settings:normal;">（出典）</text>
<text x="767" y="1167.6" font-size="16.6" textLength="416" lengthAdjust="spacingAndGlyphs" style="font-family:'DejaVu Sans','Noto Sans CJK JP',sans-serif;">国土交通省｢｢国土の長期展望｣中間とりまとめ｣及び国立</text>
<text x="694.5" y="1189.4" font-size="16.6" textLength="491.5" lengthAdjust="spacingAndGlyphs" style="font-family:'DejaVu Sans','Noto Sans CJK JP',sans-serif;">社会保障･人口問題研究所｢日本の地域別将来推計人口　令和５</text>
<text x="694.5" y="1210.4" font-size="16.6" textLength="206" lengthAdjust="spacingAndGlyphs" style="font-family:'DejaVu Sans','Noto Sans CJK JP',sans-serif;">(2023)年推計｣を基に作成</text>
</g>
<g id="p6">
<text x="1373.5" y="847.8" font-size="20.5" font-weight="700" textLength="227" lengthAdjust="spacingAndGlyphs">我が国経済･競争力の低迷</text>
<text x="1218.5" y="873" font-size="11.5" fill="#333" textLength="34" lengthAdjust="spacingAndGlyphs">(順位)</text>
<text x="1284.5" y="876" font-size="21" font-weight="300" textLength="412.5" lengthAdjust="spacingAndGlyphs">（G7各国の時間当たり労働生産性順位(OECD加盟国））</text>
<text x="1284.9" y="890.6" font-size="13.2" fill="#707070" text-anchor="middle" textLength="26.5" lengthAdjust="spacingAndGlyphs">2010</text>
<text x="1316.95" y="890.6" font-size="13.2" fill="#707070" text-anchor="middle" textLength="26.5" lengthAdjust="spacingAndGlyphs">2011</text>
<text x="1349" y="890.6" font-size="13.2" fill="#707070" text-anchor="middle" textLength="26.5" lengthAdjust="spacingAndGlyphs">2012</text>
<text x="1381.05" y="890.6" font-size="13.2" fill="#707070" text-anchor="middle" textLength="26.5" lengthAdjust="spacingAndGlyphs">2013</text>
<text x="1413.1" y="890.6" font-size="13.2" fill="#707070" text-anchor="middle" textLength="26.5" lengthAdjust="spacingAndGlyphs">2014</text>
<text x="1445.15" y="890.6" font-size="13.2" fill="#707070" text-anchor="middle" textLength="26.5" lengthAdjust="spacingAndGlyphs">2015</text>
<text x="1477.2" y="890.6" font-size="13.2" fill="#707070" text-anchor="middle" textLength="26.5" lengthAdjust="spacingAndGlyphs">2016</text>
<text x="1509.25" y="890.6" font-size="13.2" fill="#707070" text-anchor="middle" textLength="26.5" lengthAdjust="spacingAndGlyphs">2017</text>
<text x="1541.3" y="890.6" font-size="13.2" fill="#707070" text-anchor="middle" textLength="26.5" lengthAdjust="spacingAndGlyphs">2018</text>
<text x="1573.35" y="890.6" font-size="13.2" fill="#707070" text-anchor="middle" textLength="26.5" lengthAdjust="spacingAndGlyphs">2019</text>
<text x="1605.4" y="890.6" font-size="13.2" fill="#707070" text-anchor="middle" textLength="26.5" lengthAdjust="spacingAndGlyphs">2020</text>
<text x="1637.45" y="890.6" font-size="13.2" fill="#707070" text-anchor="middle" textLength="26.5" lengthAdjust="spacingAndGlyphs">2021</text>
<text x="1669.5" y="890.6" font-size="13.2" fill="#707070" text-anchor="middle" textLength="26.5" lengthAdjust="spacingAndGlyphs">2022</text>
<text x="1701.55" y="890.6" font-size="13.2" fill="#707070" text-anchor="middle" textLength="26.5" lengthAdjust="spacingAndGlyphs">2023</text>
<line x1="1267.5" y1="906.2" x2="1717" y2="906.2" stroke="#d9d9d9" stroke-width="1.2" />
<text x="1257.3" y="910.8" font-size="13" fill="#707070" text-anchor="end">1</text>
<line x1="1267.5" y1="951.8" x2="1717" y2="951.8" stroke="#d9d9d9" stroke-width="1.2" />
<text x="1257.3" y="956.4" font-size="13" fill="#707070" text-anchor="end">6</text>
<line x1="1267.5" y1="997.4" x2="1717" y2="997.4" stroke="#d9d9d9" stroke-width="1.2" />
<text x="1257.3" y="1002" font-size="13" fill="#707070" text-anchor="end">11</text>
<line x1="1267.5" y1="1043" x2="1717" y2="1043" stroke="#d9d9d9" stroke-width="1.2" />
<text x="1257.3" y="1047.6" font-size="13" fill="#707070" text-anchor="end">16</text>
<line x1="1267.5" y1="1088.6" x2="1717" y2="1088.6" stroke="#d9d9d9" stroke-width="1.2" />
<text x="1257.3" y="1093.2" font-size="13" fill="#707070" text-anchor="end">21</text>
<line x1="1267.5" y1="1134.2" x2="1717" y2="1134.2" stroke="#d9d9d9" stroke-width="1.2" />
<text x="1257.3" y="1138.8" font-size="13" fill="#707070" text-anchor="end">26</text>
<line x1="1267.5" y1="1179.8" x2="1717" y2="1179.8" stroke="#d9d9d9" stroke-width="1.2" />
<text x="1257.3" y="1184.4" font-size="13" fill="#707070" text-anchor="end">31</text>
<polyline points="1284.9,1061.2 1317.0,1061.2 1349.0,1061.2 1381.1,1061.2 1413.1,1061.2 1445.2,1070.4 1477.2,1070.4 1509.2,1070.4 1541.3,1061.2 1573.4,1070.4 1605.4,1061.2 1637.5,1061.2 1669.5,1061.2 1701.6,1061.2" fill="none" stroke="#156082" stroke-width="4.3" stroke-linejoin="round" stroke-linecap="round"/>
<circle cx="1284.9" cy="1061.2" r="4.6" fill="#156082"/><circle cx="1317.0" cy="1061.2" r="4.6" fill="#156082"/><circle cx="1349.0" cy="1061.2" r="4.6" fill="#156082"/><circle cx="1381.1" cy="1061.2" r="4.6" fill="#156082"/><circle cx="1413.1" cy="1061.2" r="4.6" fill="#156082"/><circle cx="1445.2" cy="1070.4" r="4.6" fill="#156082"/><circle cx="1477.2" cy="1070.4" r="4.6" fill="#156082"/><circle cx="1509.2" cy="1070.4" r="4.6" fill="#156082"/><circle cx="1541.3" cy="1061.2" r="4.6" fill="#156082"/><circle cx="1573.4" cy="1070.4" r="4.6" fill="#156082"/><circle cx="1605.4" cy="1061.2" r="4.6" fill="#156082"/><circle cx="1637.5" cy="1061.2" r="4.6" fill="#156082"/><circle cx="1669.5" cy="1061.2" r="4.6" fill="#156082"/><circle cx="1701.6" cy="1061.2" r="4.6" fill="#156082"/>
<polyline points="1284.9,988.3 1317.0,988.3 1349.0,1006.5 1381.1,988.3 1413.1,988.3 1445.2,997.4 1477.2,997.4 1509.2,997.4 1541.3,997.4 1573.4,960.9 1605.4,951.8 1637.5,1006.5 1669.5,1015.6 1701.6,1015.6" fill="none" stroke="#ed7d31" stroke-width="4.3" stroke-linejoin="round" stroke-linecap="round"/>
<circle cx="1284.9" cy="988.3" r="4.6" fill="#ed7d31"/><circle cx="1317.0" cy="988.3" r="4.6" fill="#ed7d31"/><circle cx="1349.0" cy="1006.5" r="4.6" fill="#ed7d31"/><circle cx="1381.1" cy="988.3" r="4.6" fill="#ed7d31"/><circle cx="1413.1" cy="988.3" r="4.6" fill="#ed7d31"/><circle cx="1445.2" cy="997.4" r="4.6" fill="#ed7d31"/><circle cx="1477.2" cy="997.4" r="4.6" fill="#ed7d31"/><circle cx="1509.2" cy="997.4" r="4.6" fill="#ed7d31"/><circle cx="1541.3" cy="997.4" r="4.6" fill="#ed7d31"/><circle cx="1573.4" cy="960.9" r="4.6" fill="#ed7d31"/><circle cx="1605.4" cy="951.8" r="4.6" fill="#ed7d31"/><circle cx="1637.5" cy="1006.5" r="4.6" fill="#ed7d31"/><circle cx="1669.5" cy="1015.6" r="4.6" fill="#ed7d31"/><circle cx="1701.6" cy="1015.6" r="4.6" fill="#ed7d31"/>
<polyline points="1284.9,997.4 1317.0,997.4 1349.0,997.4 1381.1,1006.5 1413.1,979.2 1445.2,1006.5 1477.2,979.2 1509.2,960.9 1541.3,960.9 1573.4,970.0 1605.4,979.2 1637.5,979.2 1669.5,979.2 1701.6,997.4" fill="none" stroke="#9dc3e6" stroke-width="4.3" stroke-linejoin="round" stroke-linecap="round"/>
<circle cx="1284.9" cy="997.4" r="3.2" fill="#1f6f33"/><circle cx="1317.0" cy="997.4" r="3.2" fill="#1f6f33"/><circle cx="1349.0" cy="997.4" r="3.2" fill="#1f6f33"/><circle cx="1381.1" cy="1006.5" r="3.2" fill="#1f6f33"/><circle cx="1413.1" cy="979.2" r="3.2" fill="#1f6f33"/><circle cx="1445.2" cy="1006.5" r="3.2" fill="#1f6f33"/><circle cx="1477.2" cy="979.2" r="3.2" fill="#1f6f33"/><circle cx="1509.2" cy="960.9" r="3.2" fill="#1f6f33"/><circle cx="1541.3" cy="960.9" r="3.2" fill="#1f6f33"/><circle cx="1573.4" cy="970.0" r="3.2" fill="#1f6f33"/><circle cx="1605.4" cy="979.2" r="3.2" fill="#1f6f33"/><circle cx="1637.5" cy="979.2" r="3.2" fill="#1f6f33"/><circle cx="1669.5" cy="979.2" r="3.2" fill="#1f6f33"/><circle cx="1701.6" cy="997.4" r="3.2" fill="#1f6f33"/>
<polyline points="1284.9,1043.0 1317.0,1043.0 1349.0,1043.0 1381.1,1052.1 1413.1,1043.0 1445.2,1043.0 1477.2,1043.0 1509.2,1043.0 1541.3,1043.0 1573.4,1043.0 1605.4,1043.0 1637.5,1043.0 1669.5,1052.1 1701.6,1052.1" fill="none" stroke="#0f9ed5" stroke-width="4.3" stroke-linejoin="round" stroke-linecap="round"/>
<circle cx="1284.9" cy="1043.0" r="4.6" fill="#0f9ed5"/><circle cx="1317.0" cy="1043.0" r="4.6" fill="#0f9ed5"/><circle cx="1349.0" cy="1043.0" r="4.6" fill="#0f9ed5"/><circle cx="1381.1" cy="1052.1" r="4.6" fill="#0f9ed5"/><circle cx="1413.1" cy="1043.0" r="4.6" fill="#0f9ed5"/><circle cx="1445.2" cy="1043.0" r="4.6" fill="#0f9ed5"/><circle cx="1477.2" cy="1043.0" r="4.6" fill="#0f9ed5"/><circle cx="1509.2" cy="1043.0" r="4.6" fill="#0f9ed5"/><circle cx="1541.3" cy="1043.0" r="4.6" fill="#0f9ed5"/><circle cx="1573.4" cy="1043.0" r="4.6" fill="#0f9ed5"/><circle cx="1605.4" cy="1043.0" r="4.6" fill="#0f9ed5"/><circle cx="1637.5" cy="1043.0" r="4.6" fill="#0f9ed5"/><circle cx="1669.5" cy="1052.1" r="4.6" fill="#0f9ed5"/><circle cx="1701.6" cy="1052.1" r="4.6" fill="#0f9ed5"/>
<polyline points="1284.9,1079.5 1317.0,1079.5 1349.0,1079.5 1381.1,1079.5 1413.1,1079.5 1445.2,1079.5 1477.2,1079.5 1509.2,1088.6 1541.3,1088.6 1573.4,1125.1 1605.4,1152.4 1637.5,1161.6 1669.5,1152.4 1701.6,1134.2" fill="none" stroke="#ff0000" stroke-width="4.3" stroke-linejoin="round" stroke-linecap="round"/>
<circle cx="1284.9" cy="1079.5" r="4.6" fill="#e0143c"/><circle cx="1317.0" cy="1079.5" r="4.6" fill="#e0143c"/><circle cx="1349.0" cy="1079.5" r="4.6" fill="#e0143c"/><circle cx="1381.1" cy="1079.5" r="4.6" fill="#e0143c"/><circle cx="1413.1" cy="1079.5" r="4.6" fill="#e0143c"/><circle cx="1445.2" cy="1079.5" r="4.6" fill="#e0143c"/><circle cx="1477.2" cy="1079.5" r="4.6" fill="#e0143c"/><circle cx="1509.2" cy="1088.6" r="4.6" fill="#e0143c"/><circle cx="1541.3" cy="1088.6" r="4.6" fill="#e0143c"/><circle cx="1573.4" cy="1125.1" r="4.6" fill="#e0143c"/><circle cx="1605.4" cy="1152.4" r="4.6" fill="#e0143c"/><circle cx="1637.5" cy="1161.6" r="4.6" fill="#e0143c"/><circle cx="1669.5" cy="1152.4" r="4.6" fill="#e0143c"/><circle cx="1701.6" cy="1134.2" r="4.6" fill="#e0143c"/>
<polyline points="1284.9,1024.8 1317.0,1024.8 1349.0,1024.8 1381.1,1024.8 1413.1,1033.9 1445.2,1033.9 1477.2,1033.9 1509.2,1033.9 1541.3,1033.9 1573.4,1033.9 1605.4,1024.8 1637.5,1052.1 1669.5,1033.9 1701.6,1033.9" fill="none" stroke="#4ea72e" stroke-width="4.3" stroke-linejoin="round" stroke-linecap="round"/>
<circle cx="1284.9" cy="1024.8" r="4.6" fill="#4ea72e"/><circle cx="1317.0" cy="1024.8" r="4.6" fill="#4ea72e"/><circle cx="1349.0" cy="1024.8" r="4.6" fill="#4ea72e"/><circle cx="1381.1" cy="1024.8" r="4.6" fill="#4ea72e"/><circle cx="1413.1" cy="1033.9" r="4.6" fill="#4ea72e"/><circle cx="1445.2" cy="1033.9" r="4.6" fill="#4ea72e"/><circle cx="1477.2" cy="1033.9" r="4.6" fill="#4ea72e"/><circle cx="1509.2" cy="1033.9" r="4.6" fill="#4ea72e"/><circle cx="1541.3" cy="1033.9" r="4.6" fill="#4ea72e"/><circle cx="1573.4" cy="1033.9" r="4.6" fill="#4ea72e"/><circle cx="1605.4" cy="1024.8" r="4.6" fill="#4ea72e"/><circle cx="1637.5" cy="1052.1" r="4.6" fill="#4ea72e"/><circle cx="1669.5" cy="1033.9" r="4.6" fill="#4ea72e"/><circle cx="1701.6" cy="1033.9" r="4.6" fill="#4ea72e"/>
<polyline points="1284.9,924.4 1317.0,933.6 1349.0,933.6 1381.1,951.8 1413.1,960.9 1445.2,960.9 1477.2,960.9 1509.2,970.0 1541.3,970.0 1573.4,988.3 1605.4,988.3 1637.5,960.9 1669.5,988.3 1701.6,960.9" fill="none" stroke="#000000" stroke-width="4.3" stroke-linejoin="round" stroke-linecap="round"/>
<circle cx="1284.9" cy="924.4" r="4.6" fill="#1b2a4a"/><circle cx="1317.0" cy="933.6" r="4.6" fill="#1b2a4a"/><circle cx="1349.0" cy="933.6" r="4.6" fill="#1b2a4a"/><circle cx="1381.1" cy="951.8" r="4.6" fill="#1b2a4a"/><circle cx="1413.1" cy="960.9" r="4.6" fill="#1b2a4a"/><circle cx="1445.2" cy="960.9" r="4.6" fill="#1b2a4a"/><circle cx="1477.2" cy="960.9" r="4.6" fill="#1b2a4a"/><circle cx="1509.2" cy="970.0" r="4.6" fill="#1b2a4a"/><circle cx="1541.3" cy="970.0" r="4.6" fill="#1b2a4a"/><circle cx="1573.4" cy="988.3" r="4.6" fill="#1b2a4a"/><circle cx="1605.4" cy="988.3" r="4.6" fill="#1b2a4a"/><circle cx="1637.5" cy="960.9" r="4.6" fill="#1b2a4a"/><circle cx="1669.5" cy="988.3" r="4.6" fill="#1b2a4a"/><circle cx="1701.6" cy="960.9" r="4.6" fill="#1b2a4a"/>
<text x="1717.6" y="958" font-size="14.2" font-weight="300" fill="#7f7f7f" text-anchor="middle">米</text>
<text x="1717.6" y="995.6" font-size="14.2" font-weight="300" fill="#7f7f7f" text-anchor="middle">独</text>
<text x="1717.6" y="1026.8" font-size="14.2" font-weight="300" fill="#7f7f7f" text-anchor="middle">仏</text>
<text x="1717.6" y="1048.3" font-size="14.2" font-weight="300" fill="#7f7f7f" text-anchor="middle">英</text>
<text x="1717.6" y="1066.7" font-size="14.2" font-weight="300" fill="#7f7f7f" text-anchor="middle">伊</text>
<text x="1717.6" y="1085.8" font-size="14.2" font-weight="300" fill="#7f7f7f" text-anchor="middle">加</text>
<text x="1704.6" y="1143.6" font-size="11.8" font-weight="700">日</text>
<line x1="1282" y1="1108.6" x2="1311" y2="1108.6" stroke="#156082" stroke-width="4.3" stroke-linecap="round"/>
<circle cx="1296.5" cy="1108.6" r="4.6" fill="#156082"/><text x="1315.5" y="1113.8" font-size="14.2" font-weight="300" fill="#7f7f7f" textLength="38" lengthAdjust="spacingAndGlyphs" style="font-feature-settings:normal;">カナダ</text>
<line x1="1370" y1="1108.6" x2="1399" y2="1108.6" stroke="#ed7d31" stroke-width="4.3" stroke-linecap="round"/>
<circle cx="1384.5" cy="1108.6" r="4.6" fill="#ed7d31"/><text x="1403.5" y="1113.8" font-size="14.2" font-weight="300" fill="#7f7f7f" textLength="49" lengthAdjust="spacingAndGlyphs" style="font-feature-settings:normal;">フランス</text>
<line x1="1457.8" y1="1108.6" x2="1486.8" y2="1108.6" stroke="#9dc3e6" stroke-width="4.3" stroke-linecap="round"/>
<circle cx="1472.3" cy="1108.6" r="3.2" fill="#1f6f33"/><text x="1491.3" y="1113.8" font-size="14.2" font-weight="300" fill="#7f7f7f" textLength="37" lengthAdjust="spacingAndGlyphs" style="font-feature-settings:normal;">ドイツ</text>
<line x1="1282" y1="1133" x2="1311" y2="1133" stroke="#0f9ed5" stroke-width="4.3" stroke-linecap="round"/>
<circle cx="1296.5" cy="1133" r="4.6" fill="#0f9ed5"/><text x="1315.5" y="1138.2" font-size="14.2" font-weight="300" fill="#7f7f7f" textLength="49.5" lengthAdjust="spacingAndGlyphs" style="font-feature-settings:normal;">イタリア</text>
<line x1="1370" y1="1133" x2="1399" y2="1133" stroke="#ff0000" stroke-width="4.3" stroke-linecap="round"/>
<circle cx="1384.5" cy="1133" r="4.6" fill="#e0143c"/><text x="1403.5" y="1138.2" font-size="14.2" font-weight="300" fill="#7f7f7f" textLength="24" lengthAdjust="spacingAndGlyphs" style="font-feature-settings:normal;">日本</text>
<line x1="1457.8" y1="1133" x2="1486.8" y2="1133" stroke="#4ea72e" stroke-width="4.3" stroke-linecap="round"/>
<circle cx="1472.3" cy="1133" r="4.6" fill="#4ea72e"/><text x="1491.3" y="1138.2" font-size="14.2" font-weight="300" fill="#7f7f7f" textLength="50" lengthAdjust="spacingAndGlyphs" style="font-feature-settings:normal;">イギリス</text>
<line x1="1282" y1="1156.2" x2="1311" y2="1156.2" stroke="#000000" stroke-width="4.3" stroke-linecap="round"/>
<circle cx="1296.5" cy="1156.2" r="4.6" fill="#1b2a4a"/><text x="1315.5" y="1161.4" font-size="14.2" font-weight="300" fill="#7f7f7f" textLength="49.5" lengthAdjust="spacingAndGlyphs" style="font-feature-settings:normal;">アメリカ</text>
<text x="1410.5" y="1168.6" font-size="17.2" textLength="130.5" lengthAdjust="spacingAndGlyphs" style="font-feature-settings:normal;">（データ集掲載）</text>
<path d="M1596,1087.8 H1714 a5,5 0 0 1 5,5 V1123.5 a5,5 0 0 1 -5,5 H1644.2 L1635.4,1153.6 L1611.6,1128.5 H1596 a5,5 0 0 1 -5,-5 V1092.8 a5,5 0 0 1 5,-5 Z" fill="#ffffcc" stroke="#3a3a3a" stroke-width="1.5" stroke-linejoin="round"/>
<text x="1612" y="1103.6" font-size="14.2" font-weight="700" textLength="83.5" lengthAdjust="spacingAndGlyphs">OECD38カ国中</text>
<text x="1612" y="1122.8" font-size="14.2" font-weight="700" textLength="84" lengthAdjust="spacingAndGlyphs">26位(2023年）</text>
<text x="1305" y="1208.6" font-size="17.2" textLength="426.5" lengthAdjust="spacingAndGlyphs" style="font-family:'DejaVu Sans','Noto Sans CJK JP',sans-serif;font-feature-settings:normal;">（出典）OECD「OECD Data Explorer」を基に作成</text>
</g>
</svg>
</body></html>
